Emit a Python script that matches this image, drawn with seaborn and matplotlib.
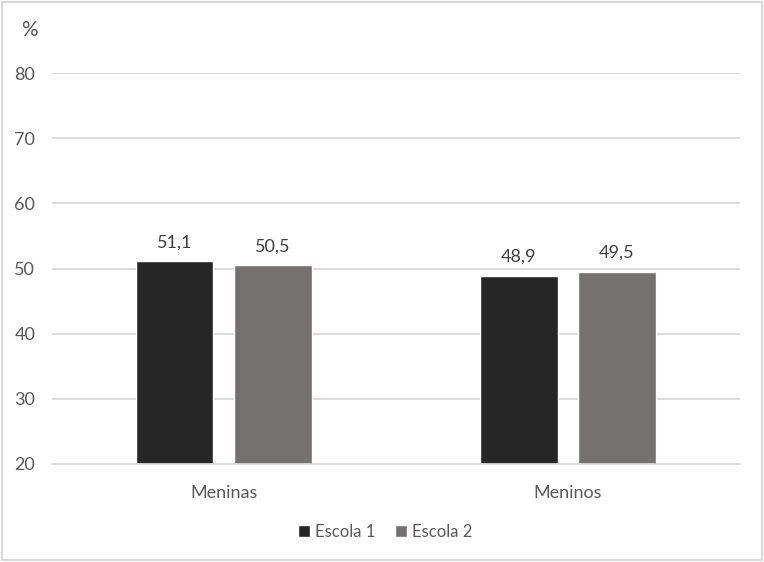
import matplotlib

matplotlib.use("Agg")

import matplotlib.pyplot as plt
import pandas as pd
import seaborn as sns
from matplotlib.patches import Rectangle

grupos = ["Meninas", "Meninos"]
escolas = ["Escola 1", "Escola 2"]
escola1 = [51.1, 48.9]
escola2 = [50.5, 49.5]
yticks = [20, 30, 40, 50, 60, 70, 80]

cores = ["#262626", "#767171"]
texto = "#595959"

df = pd.DataFrame({
    "grupo": grupos * 2,
    "escola": [escolas[0]] * 2 + [escolas[1]] * 2,
    "valor": escola1 + escola2,
})

sns.set_style("white")
plt.rcParams["font.family"] = ["Lato", "DejaVu Sans"]

fig = plt.figure(figsize=(7.64, 5.62), dpi=100)
ax = fig.add_axes([0.068, 0.1744, 0.9006, 0.6956])

sns.barplot(
    data=df, x="grupo", y="valor", hue="escola", palette=cores,
    width=0.57, gap=0.214, ax=ax, legend=True, saturation=1,
)

ax.set_ylim(20, 80)
ax.set_xlim(-0.5, 1.5)
ax.set_yticks(yticks)
ax.yaxis.grid(True, color="#d9d9d9", linewidth=1.3)
ax.set_axisbelow(True)
for s in ["top", "right", "left"]:
    ax.spines[s].set_visible(False)
ax.spines["bottom"].set_color("#d9d9d9")
ax.spines["bottom"].set_linewidth(1.3)
ax.tick_params(axis="both", length=0, labelsize=13, colors=texto, pad=12)
ax.tick_params(axis="x", pad=15)
ax.set_xlabel("")
ax.set_ylabel("")

for cont in ax.containers:
    ax.bar_label(
        cont, labels=[f"{v:.1f}".replace(".", ",") for v in cont.datavalues],
        padding=8, fontsize=13, color="#404040",
    )

fig.text(0.027, 0.947, "%", fontsize=15, color=texto, ha="left", va="center")

ax.legend(
    loc="center", bbox_to_anchor=(385 / 764, 30 / 562), bbox_transform=fig.transFigure,
    ncol=2, frameon=False, fontsize=12, labelcolor=texto, handlelength=0.7,
    handleheight=0.7, handletextpad=0.3, columnspacing=1.2,
)

fig.patches.append(Rectangle((0.002, 0.003), 0.996, 0.994, transform=fig.transFigure,
                             fill=False, edgecolor="#d9d9d9", linewidth=1.5))

fig.savefig("out.png", dpi=100)
